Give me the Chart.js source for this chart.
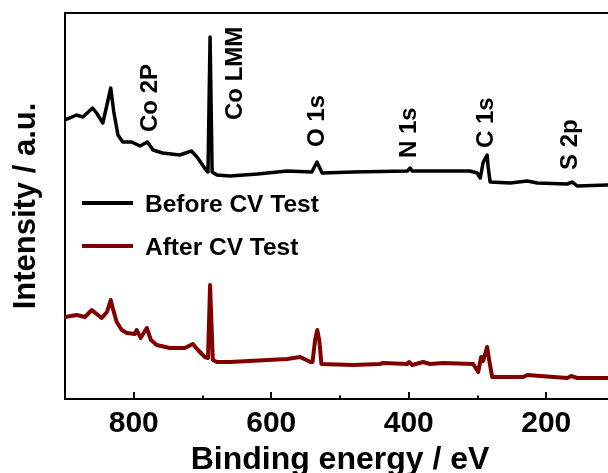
<!DOCTYPE html>
<html>
<head>
<meta charset="utf-8">
<script src="https://cdn.jsdelivr.net/npm/chart.js@4.4.1/dist/chart.umd.min.js"></script>
<style>
  html, body { margin: 0; padding: 0; background: #fff; overflow: hidden; }
  #wrap { width: 608px; height: 473px; overflow: hidden; }
</style>
</head>
<body>
<div id="wrap"><canvas id="xps" width="625" height="480"></canvas></div>
<script>
// binding energy (eV) and intensity (a.u.)
const energyBefore = [900, 883, 874, 860, 854, 845, 839, 833.5, 829, 823, 816, 803, 791, 780, 772, 758, 733, 716, 708, 697, 692, 689, 686, 679, 660, 620, 577, 541, 533.5, 526, 481, 402, 398, 395, 311, 300.5, 296, 292, 290, 286, 284.5, 281.6, 252.5, 227.7, 213, 169.5, 162, 155, 111, 100];
const intensityBefore = [279, 284, 282, 291, 286, 276, 294, 311, 287, 264, 257, 257, 253, 257, 249, 246, 244, 248, 242, 231, 227, 362, 227, 224, 223, 225, 228, 227, 237, 226, 227, 228, 231, 228, 228, 226, 221, 236, 239, 244, 232, 217, 216, 218, 216, 215, 217, 213, 214, 214];

const energyAfter = [900.5, 883, 871, 861, 854, 846.6, 839, 833.5, 830.6, 824.8, 817.5, 810, 798.5, 795.6, 790, 781, 775, 766.5, 747.6, 725.7, 714, 708, 696.6, 692, 689, 685, 679, 660, 577, 558, 543, 540, 536, 533, 530, 527, 481, 441.8, 437.4, 402.4, 399.5, 395, 379, 369, 350, 306.3, 299, 294.7, 291.8, 286, 283, 278.7, 233.5, 227.7, 169.5, 163.6, 155, 111, 100];
const intensityAfter = [82, 84, 82, 89, 85, 81, 87, 99, 91, 77, 69, 66, 65, 69, 61, 71, 59, 54, 51, 51, 55, 50, 42, 41, 114, 39, 37, 37, 40, 42, 37, 37, 60, 69, 58, 35, 34, 35, 36, 35, 37, 34, 37, 35, 36, 35, 27, 42, 38, 52, 39, 22, 22, 24, 21, 23, 21, 21, 21];

const seriesNames = ["Before CV Test", "After CV Test"];

const majorTicks = [800, 600, 400, 200];
const minorTicks = [700, 500, 300];

// peak labels (energy of text baseline, intensity where the text starts)
const peakLabels = ["Co 2P", "Co LMM", "O 1s", "N 1s", "C 1s", "S 2p"];
const peakLabelEnergy = [766.5, 642.7, 523.3, 389.3, 277.2, 154.9];
const peakLabelIntensity = [267, 279, 252, 241, 251, 229];

const FONT = "'Liberation Sans', Arial, sans-serif";

const toPoints = (xs, ys) => xs.map((x, i) => ({ x: x, y: ys[i] }));

// frame top line + inward tick marks
const framePlugin = {
  id: "frame",
  afterDraw(chart) {
    const ctx = chart.ctx;
    const area = chart.chartArea;
    const xs = chart.scales.x;
    ctx.save();
    ctx.strokeStyle = "#000";
    ctx.lineWidth = 2;
    ctx.beginPath();
    ctx.moveTo(area.left - 1, area.top);
    ctx.lineTo(area.right, area.top);
    ctx.stroke();
    majorTicks.concat(minorTicks).forEach((v) => {
      const px = Math.round(xs.getPixelForValue(v));
      const len = majorTicks.includes(v) ? 7 : 3.5;
      ctx.beginPath();
      ctx.moveTo(px, area.bottom);
      ctx.lineTo(px, area.bottom - len);
      ctx.stroke();
    });
    ctx.restore();
  },
};

// vertical peak labels
const peakLabelPlugin = {
  id: "peakLabels",
  afterDatasetsDraw(chart) {
    const ctx = chart.ctx;
    const xs = chart.scales.x;
    const ys = chart.scales.y;
    ctx.save();
    ctx.fillStyle = "#000";
    ctx.font = "bold 24px " + FONT;
    ctx.textAlign = "left";
    ctx.textBaseline = "alphabetic";
    peakLabels.forEach((label, i) => {
      ctx.save();
      ctx.translate(xs.getPixelForValue(peakLabelEnergy[i]), ys.getPixelForValue(peakLabelIntensity[i]));
      ctx.rotate(-Math.PI / 2);
      ctx.fillText(label, 0, 0);
      ctx.restore();
    });
    ctx.restore();
  },
};

// legend drawn inside the plot, left side
const legendPlugin = {
  id: "insideLegend",
  afterDatasetsDraw(chart) {
    const ctx = chart.ctx;
    const rows = [203, 246];
    ctx.save();
    ctx.font = "bold 24.5px " + FONT;
    ctx.textBaseline = "middle";
    ctx.textAlign = "left";
    chart.data.datasets.forEach((ds, i) => {
      ctx.strokeStyle = ds.borderColor;
      ctx.lineWidth = 4;
      ctx.beginPath();
      ctx.moveTo(82, rows[i]);
      ctx.lineTo(133, rows[i]);
      ctx.stroke();
      ctx.fillStyle = "#000";
      ctx.fillText(ds.label, 145, rows[i] + 2);
    });
    ctx.restore();
  },
};

new Chart(document.getElementById("xps"), {
  type: "line",
  data: {
    datasets: [
      {
        label: seriesNames[0],
        data: toPoints(energyBefore, intensityBefore),
        borderColor: "#000000",
        borderWidth: 3.5,
        pointRadius: 0,
        tension: 0,
        borderJoinStyle: "round",
        borderCapStyle: "round",
      },
      {
        label: seriesNames[1],
        data: toPoints(energyAfter, intensityAfter),
        borderColor: "#800000",
        borderWidth: 4,
        pointRadius: 0,
        tension: 0,
        borderJoinStyle: "round",
        borderCapStyle: "round",
      },
    ],
  },
  options: {
    responsive: false,
    devicePixelRatio: 1,
    animation: false,
    layout: { padding: { top: 13, right: 10, left: 0, bottom: 0 } },
    plugins: {
      legend: { display: false },
      tooltip: { enabled: false },
    },
    scales: {
      x: {
        type: "linear",
        reverse: true,
        min: 100,
        max: 900,
        afterFit: (scale) => { scale.height = 81; },
        border: { display: true, color: "#000", width: 2 },
        grid: { display: false, drawTicks: false },
        ticks: {
          stepSize: 100,
          autoSkip: false,
          maxRotation: 0,
          padding: 7,
          color: "#000",
          font: { family: FONT, size: 30, weight: "bold" },
          callback: (v) => (majorTicks.includes(v) ? String(v) : ""),
        },
        title: {
          display: true,
          text: "Binding energy / eV",
          color: "#000",
          font: { family: FONT, size: 32, weight: "bold" },
          padding: { top: 0, bottom: 1 },
        },
      },
      y: {
        min: 0,
        max: 386,
        afterFit: (scale) => { scale.width = 65; },
        border: { display: true, color: "#000", width: 2 },
        grid: { display: false, drawTicks: false },
        ticks: { display: false },
        title: {
          display: true,
          text: "Intensity / a.u.",
          color: "#000",
          font: { family: FONT, size: 31, weight: "bold" },
          padding: { top: 8, bottom: 0 },
        },
      },
    },
  },
  plugins: [framePlugin, peakLabelPlugin, legendPlugin],
});
</script>
</body>
</html>
